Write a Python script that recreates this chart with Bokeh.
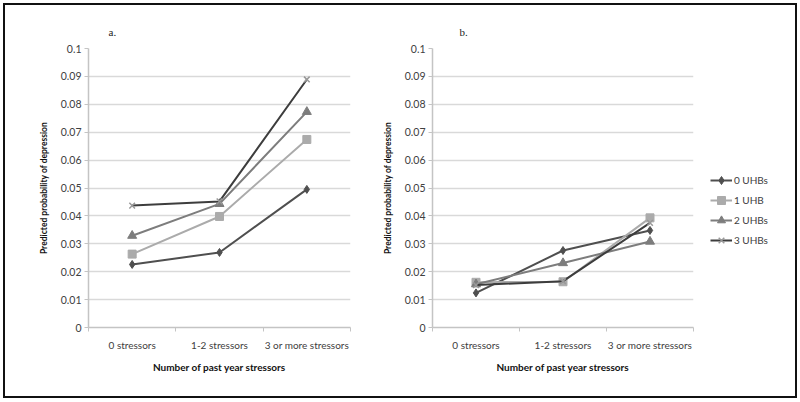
from bokeh.plotting import figure
from bokeh.layouts import row
from bokeh.models import Range1d, FixedTicker, CustomJSTickFormatter, Legend, LegendItem, Title
from bokeh.embed import file_html
from bokeh.resources import INLINE

categories = ["0 stressors", "1-2 stressors", "3 or more stressors"]
series_names = ["0 UHBs", "1 UHB", "2 UHBs", "3 UHBs"]
y_ticks = [0, 0.01, 0.02, 0.03, 0.04, 0.05, 0.06, 0.07, 0.08, 0.09, 0.1]

# Panel a
a_0uhb = [0.0226, 0.0269, 0.0495]
a_1uhb = [0.0263, 0.0398, 0.0674]
a_2uhb = [0.0329, 0.0443, 0.0773]
a_3uhb = [0.0437, 0.0452, 0.0889]
# Panel b
b_0uhb = [0.0124, 0.0276, 0.0348]
b_1uhb = [0.0162, 0.0164, 0.0393]
b_2uhb = [0.0155, 0.0231, 0.0308]
b_3uhb = [0.0152, 0.0166, 0.0375]

line_colors = ["#4f4f4f", "#ababab", "#7d7d7d", "#3d3d3d"]
marker_colors = ["#4f4f4f", "#ababab", "#7d7d7d", "#999999"]
markers = ["diamond", "square", "triangle", "x"]
marker_sizes = [8, 8, 9, 8]
legend_marker_sizes = [6, 6, 7, 6]

FONT = "Lato"
AXIS_GRAY = "#c4c4c4"
H = 391

def draw_series(p, name, vals, lc, mc, m, s, visible=True):
    xs = [i + 0.5 for i in range(len(vals))]
    lr = p.line(xs, vals, line_color=lc, line_width=2, visible=visible)
    mr = p.scatter(xs, vals, marker=m, size=s, fill_color=mc, line_color=mc,
                   line_width=1.5 if m == "x" else 1, visible=visible)
    return lr, mr

def make_panel(letter, series, width, mbl, mbr, title_offset):
    p = figure(width=width, height=H, x_range=Range1d(0, len(categories)),
               y_range=Range1d(0, 0.1), output_backend="svg", toolbar_location=None,
               min_border_left=mbl, min_border_right=mbr, min_border_top=43,
               min_border_bottom=69)
    p.outline_line_color = None
    p.background_fill_color = "white"
    p.border_fill_color = "white"
    p.xgrid.grid_line_color = None
    p.ygrid.grid_line_color = "#d9d9d9"
    p.ygrid.grid_line_width = 1.5

    t = Title(text=letter, text_font="Liberation Serif", text_font_size="11px",
              text_font_style="normal", text_color="#222222", align="left",
              offset=title_offset, standoff=21)
    p.add_layout(t, "above")

    centers = [i + 0.5 for i in range(len(categories))]
    bounds = [i for i in range(len(categories) + 1)]
    xa = p.xaxis[0]
    xa.ticker = FixedTicker(ticks=centers, minor_ticks=bounds)
    xa.major_label_overrides = {c: cat for c, cat in zip(centers, categories)}
    xa.major_tick_line_color = None
    xa.major_tick_out = 4
    xa.major_tick_in = 0
    xa.minor_tick_line_color = AXIS_GRAY
    xa.minor_tick_out = 4
    xa.minor_tick_in = 0
    xa.axis_line_color = AXIS_GRAY
    xa.axis_line_width = 1.5
    xa.major_label_standoff = 7
    xa.major_label_text_font = FONT
    xa.major_label_text_font_size = "10px"
    xa.major_label_text_color = "#404040"
    xa.axis_label = "Number of past year stressors"
    xa.axis_label_text_font = FONT
    xa.axis_label_text_font_size = "10px"
    xa.axis_label_text_font_style = "bold"
    xa.axis_label_text_color = "#111111"
    xa.axis_label_standoff = 7

    ya = p.yaxis[0]
    ya.ticker = FixedTicker(ticks=y_ticks)
    ya.formatter = CustomJSTickFormatter(code="return String(Number(tick.toFixed(2)))")
    ya.major_tick_line_color = AXIS_GRAY
    ya.major_tick_out = 4
    ya.major_tick_in = 0
    ya.minor_tick_line_color = None
    ya.axis_line_color = AXIS_GRAY
    ya.axis_line_width = 1.5
    ya.major_label_standoff = 3
    ya.major_label_text_font = FONT
    ya.major_label_text_font_size = "10.5px"
    ya.major_label_text_color = "#404040"
    ya.axis_label = "Predicted probability of depression"
    ya.axis_label_text_font = FONT
    ya.axis_label_text_font_size = "8.5px"
    ya.axis_label_text_font_style = "bold"
    ya.axis_label_text_color = "#111111"
    ya.axis_label_standoff = 9

    for name, vals, lc, mc, m, s in zip(series_names, series, line_colors,
                                         marker_colors, markers, marker_sizes):
        draw_series(p, name, vals, lc, mc, m, s)
    return p

series_a = [a_0uhb, a_1uhb, a_2uhb, a_3uhb]
series_b = [b_0uhb, b_1uhb, b_2uhb, b_3uhb]
pa = make_panel("a.", series_a, 370, 83, 25, 20)
pb = make_panel("b.", series_b, 323, 57, 5, 27)

# Legend panel: hidden copies of panel b's series supply the legend glyphs
pl = figure(width=97, height=H, x_range=Range1d(0, 1), y_range=Range1d(0, 1),
            output_backend="svg", toolbar_location=None,
            min_border_left=0, min_border_right=0, min_border_top=0, min_border_bottom=0)
pl.axis.visible = False
pl.grid.grid_line_color = None
pl.outline_line_color = None
pl.background_fill_color = "white"
pl.border_fill_color = "white"
items = []
for name, vals, lc, mc, m, s in zip(series_names, series_b, line_colors, marker_colors,
                                     markers, legend_marker_sizes):
    lr, mr = draw_series(pl, name, vals, lc, mc, m, s, visible=False)
    items.append(LegendItem(label=name, renderers=[lr, mr]))
leg = Legend(items=items, location=(12, 77), orientation="vertical",
             glyph_width=22, glyph_height=20, label_height=20, label_width=30,
             spacing=0, padding=0, margin=0, label_standoff=2,
             label_text_font=FONT, label_text_font_size="10px",
             label_text_color="#404040", click_policy="none",
             inactive_fill_alpha=0,
             background_fill_alpha=0, border_line_alpha=0)
pl.add_layout(leg, "center")

layout = row(pa, pb, pl, margin=(3, 3, 3, 3),
             styles={"border": "2px solid #111111", "background-color": "white"})

open("out.html", "w").write(file_html(layout, INLINE))
